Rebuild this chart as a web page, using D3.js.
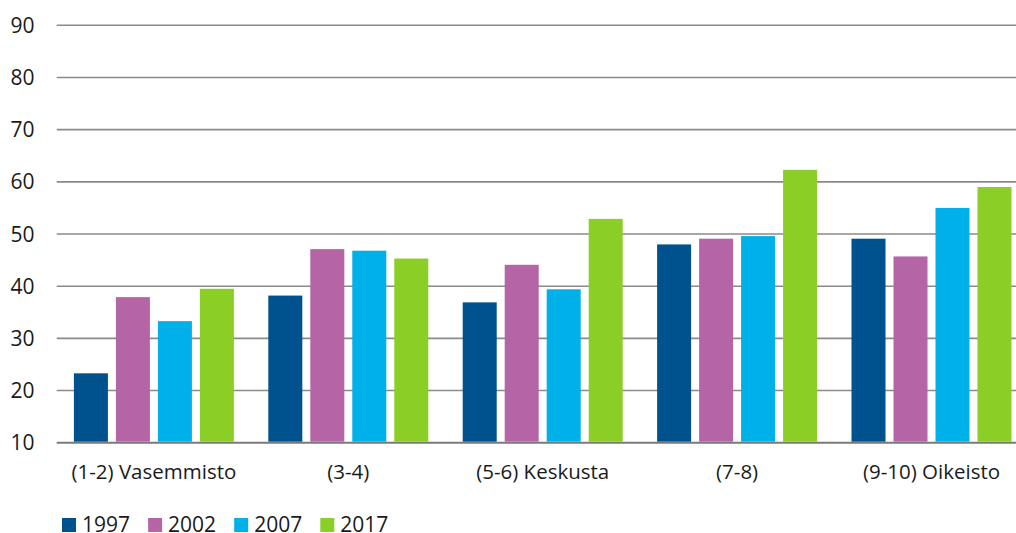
<!DOCTYPE html>
<html>
<head>
<meta charset="utf-8">
<script src="https://cdn.jsdelivr.net/npm/d3@7"></script>
<style>
  body { margin: 0; background: #fff; }
  text { font-family: "Open Sans", sans-serif; fill: #1a1a1a; }
</style>
</head>
<body>
<svg width="1016" height="533"></svg>
<script>
// categories and series
const categories = ['(1-2) Vasemmisto', '(3-4)', '(5-6) Keskusta', '(7-8)', '(9-10) Oikeisto'];
const years = ['1997', '2002', '2007', '2017'];
const values1997 = [23.3, 38.2, 36.9, 48.0, 49.1];
const values2002 = [37.9, 47.1, 44.1, 49.1, 45.7];
const values2007 = [33.3, 46.8, 39.4, 49.6, 55.0];
const values2017 = [39.5, 45.3, 52.9, 62.3, 59.0];
const yTicks = [10, 20, 30, 40, 50, 60, 70, 80, 90];
const colors = ['#00528f', '#b565a6', '#00b0e9', '#8ace26'];

const series = [values1997, values2002, values2007, values2017];
const rows = categories.map((c, i) => ({
  category: c,
  values: years.map((y, j) => ({ year: y, value: series[j][i] }))
}));

const svg = d3.select('svg');

// x: groups, chart runs off the right edge a bit
const x0 = d3.scaleBand()
    .domain(categories)
    .range([56.7, 1028.7])
    .paddingInner(0.177)
    .paddingOuter(0.0885);

const x1 = d3.scaleBand()
    .domain(years)
    .range([0, x0.bandwidth()])
    .paddingInner(0.19);

const y = d3.scaleLinear()
    .domain([10, 90])
    .range([442.7, 25.3]);

const color = d3.scaleOrdinal().domain(years).range(colors);

// gridlines
svg.append('g')
  .selectAll('line').data(yTicks)
  .enter().append('line')
    .attr('x1', 56.7)
    .attr('x2', 1016)
    .attr('y1', d => y(d))
    .attr('y2', d => y(d))
    .attr('stroke', d => d === 10 ? '#7a7a7a' : '#8a8a8a')
    .attr('stroke-width', d => d === 10 ? 2 : 1.6);

// y tick labels
svg.append('g')
  .selectAll('text').data(yTicks)
  .enter().append('text')
    .attr('x', 34.5)
    .attr('y', d => y(d))
    .attr('dy', '0.36em')
    .attr('text-anchor', 'end')
    .style('font-size', '21px')
    .text(d => d);

// bars
const groups = svg.append('g')
  .selectAll('g').data(rows)
  .enter().append('g')
    .attr('transform', d => `translate(${x0(d.category)},0)`);

groups.selectAll('rect').data(d => d.values)
  .enter().append('rect')
    .attr('x', d => x1(d.year))
    .attr('width', x1.bandwidth())
    .attr('y', d => y(d.value))
    .attr('height', d => y(10) - y(d.value) - 1)
    .attr('fill', d => color(d.year));

// category labels
svg.append('g')
  .selectAll('text').data(categories)
  .enter().append('text')
    .attr('x', d => x0(d) + x0.bandwidth() / 2)
    .attr('y', 479)
    .attr('text-anchor', 'middle')
    .style('font-size', '20.5px')
    .text(d => d);

// legend (the reference crops it at the bottom edge)
const legend = svg.append('g')
  .selectAll('g').data(years)
  .enter().append('g')
    .attr('transform', (d, i) => `translate(${62 + i * 86.1}, 518)`);

legend.append('rect')
  .attr('width', 14)
  .attr('height', 14)
  .attr('fill', d => color(d));

legend.append('text')
  .attr('x', 20)
  .attr('y', 14)
  .style('font-size', '21px')
  .text(d => d);
</script>
</body>
</html>
